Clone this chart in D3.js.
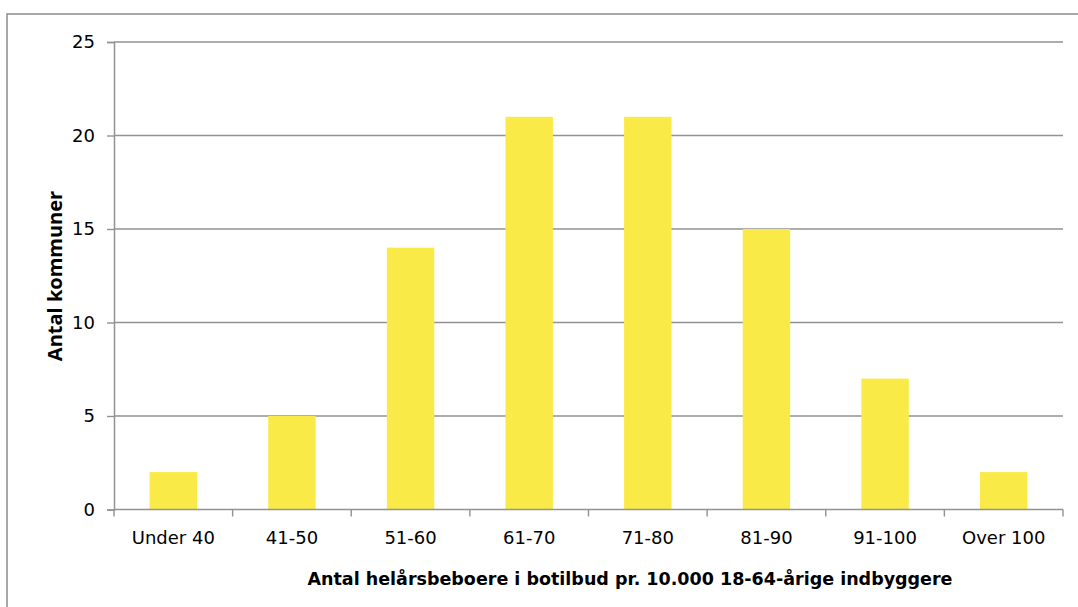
<!DOCTYPE html>
<html>
<head>
<meta charset="utf-8">
<script src="https://cdn.jsdelivr.net/npm/d3@7"></script>
<style>
  html, body { margin: 0; padding: 0; background: #fff; }
  svg { display: block; }
</style>
</head>
<body>
<svg id="chart" width="1078" height="607"></svg>
<script>
// Antal kommuner fordelt på antal helårsbeboere i botilbud
const categories = ["Under 40", "41-50", "51-60", "61-70", "71-80", "81-90", "91-100", "Over 100"];
const values = [2, 5, 14, 21, 21, 15, 7, 2];
const yTicks = [0, 5, 10, 15, 20, 25];
const xTitle = "Antal helårsbeboere i botilbud pr. 10.000 18-64-årige indbyggere";
const yTitle = "Antal kommuner";

const svg = d3.select("#chart");
const margin = { left: 114, right: 1063, top: 42, bottom: 509.5 };

// outer frame
svg.append("rect")
  .attr("x", 7).attr("y", 14)
  .attr("width", 1100).attr("height", 700)
  .attr("fill", "none")
  .attr("stroke", "#8c8c8c")
  .attr("stroke-width", 1.5);

const x = d3.scaleBand()
  .domain(categories)
  .range([margin.left, margin.right])
  .paddingInner(0.6)
  .paddingOuter(0.3);

const xEdge = d3.scaleBand()
  .domain(categories)
  .range([margin.left, margin.right]);

const y = d3.scaleLinear()
  .domain([0, 25])
  .range([margin.bottom, margin.top]);

// horizontal gridlines
svg.append("g")
  .selectAll("line")
  .data(yTicks.filter(d => d > 0))
  .join("line")
  .attr("x1", margin.left).attr("x2", margin.right)
  .attr("y1", d => y(d)).attr("y2", d => y(d))
  .attr("stroke", "#929292")
  .attr("stroke-width", 1.4);

// bars
svg.append("g")
  .selectAll("rect")
  .data(values)
  .join("rect")
  .attr("x", (d, i) => x(categories[i]))
  .attr("width", x.bandwidth())
  .attr("y", d => y(d))
  .attr("height", d => y(0) - y(d))
  .attr("fill", "#faea48");

// y axis
const yAxis = d3.axisLeft(y)
  .tickValues(yTicks)
  .tickSize(7)
  .tickPadding(12);
const gy = svg.append("g")
  .attr("transform", `translate(${margin.left},0)`)
  .call(yAxis);
gy.select(".domain").attr("stroke", "#929292").attr("stroke-width", 1.5);
gy.selectAll(".tick line").attr("stroke", "#929292").attr("stroke-width", 1.4);
gy.selectAll(".tick text")
  .attr("font-family", "DejaVu Sans, sans-serif")
  .attr("font-size", 18)
  .attr("fill", "#000");

// x axis: ticks at category boundaries
const boundaries = categories.map(c => xEdge(c)).concat([margin.right]);
const gx = svg.append("g");
gx.append("line")
  .attr("x1", margin.left).attr("x2", margin.right)
  .attr("y1", y(0)).attr("y2", y(0))
  .attr("stroke", "#929292").attr("stroke-width", 1.5);
gx.selectAll("line.tk")
  .data(boundaries)
  .join("line")
  .attr("class", "tk")
  .attr("x1", d => d).attr("x2", d => d)
  .attr("y1", y(0)).attr("y2", y(0) + 7)
  .attr("stroke", "#929292").attr("stroke-width", 1.4);
gx.selectAll("text")
  .data(categories)
  .join("text")
  .attr("x", d => xEdge(d) + xEdge.bandwidth() / 2)
  .attr("y", y(0) + 34)
  .attr("text-anchor", "middle")
  .attr("font-family", "DejaVu Sans, sans-serif")
  .attr("font-size", 18)
  .attr("fill", "#000")
  .text(d => d);

// axis titles
svg.append("text")
  .attr("x", 630)
  .attr("y", 585)
  .attr("text-anchor", "middle")
  .attr("font-family", "DejaVu Sans, sans-serif")
  .attr("font-weight", "bold")
  .attr("font-size", 17.5)
  .attr("fill", "#000")
  .text(xTitle);

svg.append("text")
  .attr("transform", "translate(62,276) rotate(-90)")
  .attr("text-anchor", "middle")
  .attr("font-family", "Open Sans, sans-serif")
  .attr("font-weight", "bold")
  .attr("font-size", 20)
  .attr("fill", "#000")
  .text(yTitle);
</script>
</body>
</html>
